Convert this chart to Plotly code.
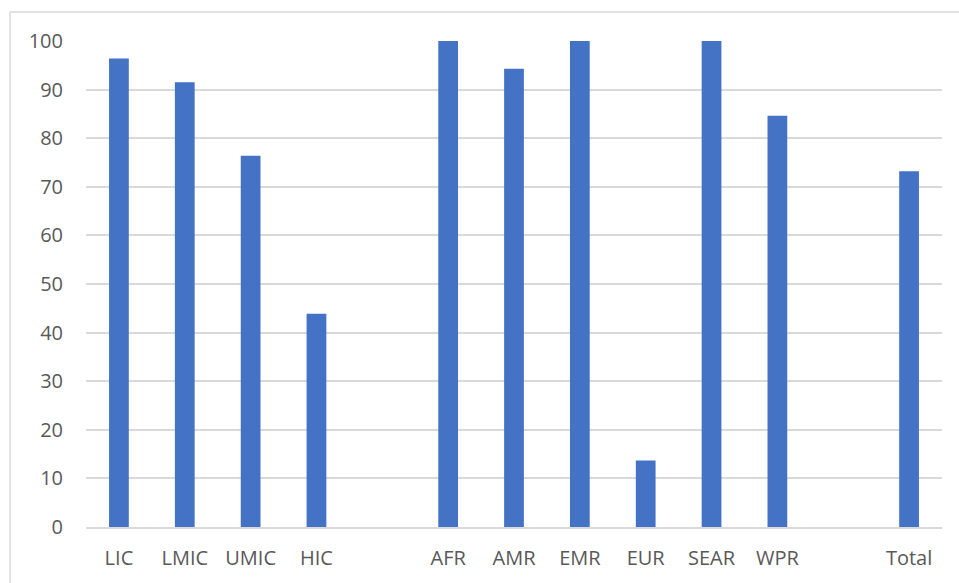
import plotly.graph_objects as go

# Categories (two spacer slots separate income groups, WHO regions and the total)
categories = ["LIC", "LMIC", "UMIC", "HIC", " ", "AFR", "AMR", "EMR", "EUR", "SEAR", "WPR", "  ", "Total"]
values = [96.4, 91.5, 76.4, 43.9, None, 100, 94.3, 100, 13.7, 100, 84.6, None, 73.2]
y_ticks = [0, 10, 20, 30, 40, 50, 60, 70, 80, 90, 100]

W, H = 959, 583
ML, MR, MT, MB = 86, 17, 41, 56

fig = go.Figure(
    go.Bar(
        x=categories,
        y=values,
        marker=dict(color="#4472C4", line=dict(width=0)),
        width=0.3,
        hoverinfo="x+y",
    )
)

label_font = dict(family="Open Sans, DejaVu Sans, sans-serif", size=20, color="#595959")

fig.update_layout(
    width=W,
    height=H,
    margin=dict(l=ML, r=MR, t=MT, b=MB),
    plot_bgcolor="white",
    paper_bgcolor="white",
    showlegend=False,
    xaxis=dict(
        type="category",
        categoryorder="array",
        categoryarray=categories,
        showgrid=False,
        showline=True,
        linecolor="#d9d9d9",
        linewidth=1.5,
        ticks="",
        tickfont=label_font,
        ticklabelstandoff=12,
    ),
    yaxis=dict(
        range=[0, 100],
        tickvals=y_ticks,
        showgrid=True,
        gridcolor="#d9d9d9",
        gridwidth=1.5,
        zeroline=False,
        showline=False,
        ticks="",
        tickfont=label_font,
        ticklabelstandoff=22,
    ),
)

# Light chart-area frame (left and top edges)
pw, ph = W - ML - MR, H - MT - MB
fx = (10 - ML) / pw
fy = (H - MB - 12) / ph
frame = dict(color="#d9d9d9", width=1.5)
fig.add_shape(type="line", xref="paper", yref="paper", x0=fx, x1=fx, y0=fy, y1=-1, line=frame, layer="below")
fig.add_shape(type="line", xref="paper", yref="paper", x0=fx, x1=2, y0=fy, y1=fy, line=frame, layer="below")

fig.write_html("out.html")
